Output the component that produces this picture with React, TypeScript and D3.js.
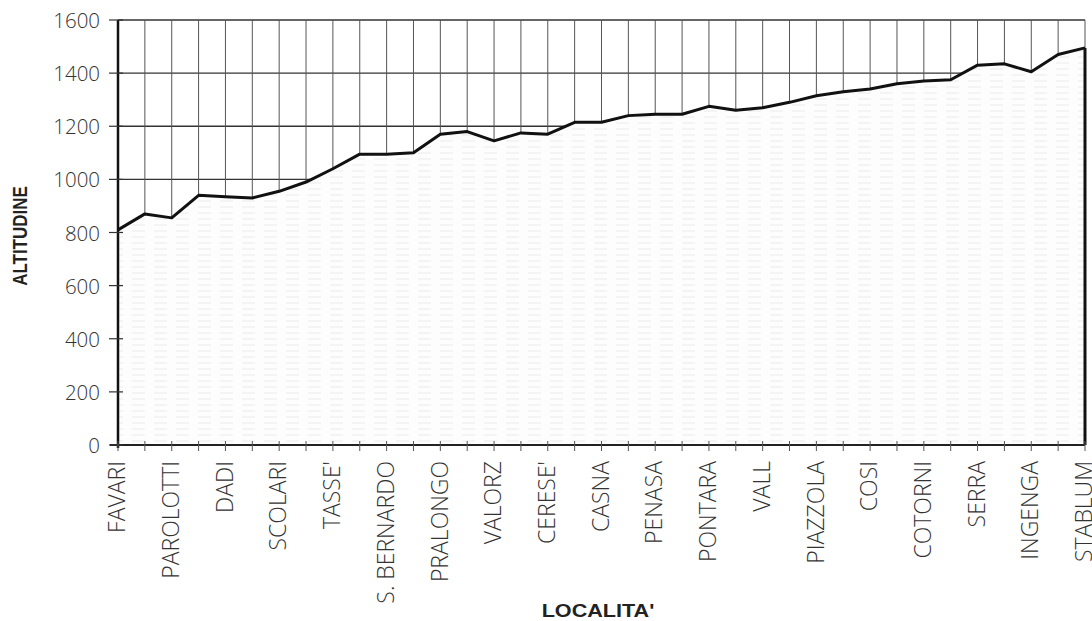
import React from "react";
import * as d3 from "d3";

const categories: string[] = [
  "FAVARI", "", "PAROLOTTI", "", "DADI", "", "SCOLARI", "", "TASSE'", "",
  "S. BERNARDO", "", "PRALONGO", "", "VALORZ", "", "CERESE'", "", "CASNA", "",
  "PENASA", "", "PONTARA", "", "VALL", "", "PIAZZOLA", "", "COSI", "",
  "COTORNI", "", "SERRA", "", "INGENGA", "", "STABLUM",
];

const altitudes: number[] = [
  810, 870, 855, 940, 935, 930, 955, 990, 1040, 1095,
  1095, 1100, 1170, 1180, 1145, 1175, 1170, 1215, 1215, 1240,
  1245, 1245, 1275, 1260, 1270, 1290, 1315, 1330, 1340, 1360,
  1370, 1375, 1430, 1435, 1405, 1470, 1495,
];

const yTicks: number[] = [0, 200, 400, 600, 800, 1000, 1200, 1400, 1600];

const W = 1092;
const H = 621;
const FONT = "'Open Sans', 'Liberation Sans', Arial, sans-serif";
const BOLD_FONT = "'Liberation Sans', Arial, sans-serif";

export default function App() {
  const idx = categories.map((_, i) => i);
  const x = d3.scalePoint<number>().domain(idx).range([118, 1085]).padding(0);
  const y = d3.scaleLinear().domain([0, 1600]).range([445, 20]);

  const area = d3
    .area<number>()
    .x((_, i) => x(i) as number)
    .y0(y(0))
    .y1((d) => y(d))
    .curve(d3.curveLinear);
  const line = d3
    .line<number>()
    .x((_, i) => x(i) as number)
    .y((d) => y(d))
    .curve(d3.curveLinear);

  const xL = x(0) as number;
  const xR = x(categories.length - 1) as number;
  const last = altitudes[altitudes.length - 1];

  return (
    <svg
      width={W}
      height={H}
      style={{ position: "absolute", left: 0, top: 0, background: "#fff" }}
    >
      <defs>
        <pattern id="scan" width="22" height="6" patternUnits="userSpaceOnUse">
          <rect width="22" height="6" fill="#fdfdfd" />
          <line x1="0" x2="13" y1="3" y2="3" stroke="#ebebeb" strokeWidth="1" />
        </pattern>
      </defs>

      {/* horizontal gridlines */}
      {yTicks.slice(1).map((t) => (
        <line
          key={"h" + t}
          x1={xL}
          x2={xR}
          y1={y(t)}
          y2={y(t)}
          stroke="#333"
          strokeWidth={1.3}
        />
      ))}
      {/* vertical gridlines */}
      {idx.map((i) => (
        <line
          key={"v" + i}
          x1={x(i) as number}
          x2={x(i) as number}
          y1={y(1600)}
          y2={y(0)}
          stroke="#555"
          strokeWidth={1}
        />
      ))}

      {/* area */}
      <path d={area(altitudes) || ""} fill="url(#scan)" stroke="none" />
      <path
        d={line(altitudes) || ""}
        fill="none"
        stroke="#111"
        strokeWidth={3}
        strokeLinejoin="round"
      />
      {/* right edge of area */}
      <line x1={xR} x2={xR} y1={y(last)} y2={y(0)} stroke="#111" strokeWidth={3} />

      {/* axes */}
      <line x1={xL} x2={xL} y1={y(1600)} y2={y(0) + 3} stroke="#111" strokeWidth={2.5} />
      <line x1={xL - 8} x2={xR} y1={y(0)} y2={y(0)} stroke="#222" strokeWidth={2} />

      {/* y ticks */}
      {yTicks.map((t) => (
        <g key={"yt" + t}>
          <line x1={xL - 9} x2={xL + 5} y1={y(t)} y2={y(t)} stroke="#333" strokeWidth={1.2} />
          <text
            transform={`translate(100, ${y(t)}) scale(1.05, 1.05)`}
            textAnchor="end"
            dominantBaseline="central"
            fontFamily={FONT}
            fontWeight={300}
            fontSize={19.5}
            fill="#333"
          >
            {t}
          </text>
        </g>
      ))}

      {/* x ticks and labels */}
      {idx.map((i) => (
        <g key={"xt" + i}>
          <line
            x1={x(i) as number}
            x2={x(i) as number}
            y1={y(0) - 4}
            y2={y(0) + 6}
            stroke="#555"
            strokeWidth={1}
          />
          {categories[i] && (
            <text
              transform={`translate(${(x(i) as number) - 2}, 461) rotate(-90) scale(1, 1.05)`}
              textAnchor="end"
              dominantBaseline="central"
              fontFamily={FONT}
              fontWeight={300}
              fontSize={23}
              fill="#333"
            >
              {categories[i]}
            </text>
          )}
        </g>
      ))}

      {/* axis titles */}
      <text
        transform="translate(20, 236) rotate(-90) scale(1, 1.2)"
        textAnchor="middle"
        dominantBaseline="central"
        fontFamily={BOLD_FONT}
        fontWeight="bold"
        fontSize={17}
        fill="#222"
      >
        ALTITUDINE
      </text>
      <text
        transform="translate(598, 617) scale(1.2, 1)"
        textAnchor="middle"
        fontFamily={BOLD_FONT}
        fontWeight="bold"
        fontSize={18}
        fill="#222"
      >
        LOCALITA'
      </text>
    </svg>
  );
}
